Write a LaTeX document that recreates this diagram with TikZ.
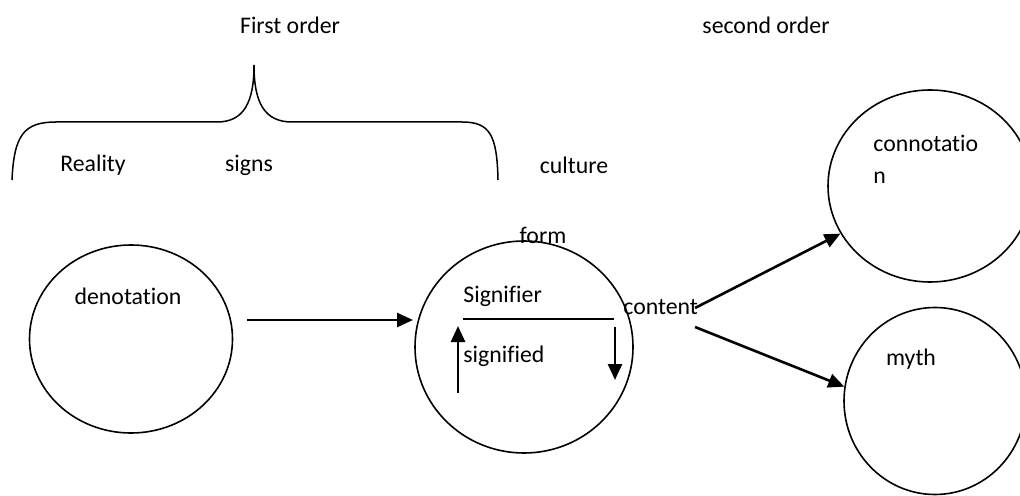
\documentclass[tikz,border=0pt]{standalone}
\usepackage{fontspec}
\setmainfont[Ligatures=NoCommon]{Carlito}
\usetikzlibrary{arrows.meta,shapes.geometric}
\tikzset{
every node/.style={inner sep=0pt, font=\fontsize{11.9}{14}\selectfont}, % all texts
ring/.style={draw, ellipse, line width=0.8pt}, % the round shapes
arr/.style={-{Triangle[length=8pt,width=7pt]}, line width=1.3pt}
}
\begin{document}
\begin{tikzpicture}[x=0.5pt,y=-0.5pt]
    \useasboundingbox (0,0) rectangle (1020,496);
    \clip (0,0) rectangle (1020,496);
    \node (first) at (290,25) {First order};
    \node (second) at (766,25) {second order};
    \draw [line width=0.75pt] (12,180) .. controls (14,135) and (24,122) .. (56,122) -- (217,122)
        .. controls (244,122) and (254,102) .. (254,65)
        .. controls (254,102) and (264,122) .. (292,122) -- (462,122)
        .. controls (490,122) and (497,135) .. (498,180);
    \node (reality) at (93,165) {Reality};
    \node (signs) at (249,165) {signs};
    \node (culture) at (574,165) {culture};
    \node [ring, minimum width=101.5pt, minimum height=94pt] (deno) at (131,339) {};
    \node [ring, minimum width=109pt, minimum height=106pt] (sign) at (524,347) {};
    \node [ring, minimum width=102pt, minimum height=96pt] (conn) at (930,186) {};
    \node [ring, minimum width=91pt, minimum height=93.5pt] (myth) at (935,401) {};
    \node (denotext) at (128,296) {denotation};
    \node (form) at (543,235) {form};
    \node [anchor=west] (signifier) at (463,296) {Signifier};
    \node [anchor=west] (signified) at (463,356) {signified};
    \node [anchor=west] (content) at (623,307) {content};
    \node [anchor=west] (conntext) at (873,143) {connotatio};
    \node [anchor=west] (conntext2) at (873,178) {n};
    \node (mythtext) at (911,359) {myth};
    % arrow ends
    \coordinate (from deno) at (247,320);
    \coordinate (to sign) at (413,320);
    \coordinate (bar left) at (463,319);
    \coordinate (bar right) at (614,319);
    \coordinate (up start) at (458,393);
    \coordinate (up end) at (458,326);
    \coordinate (down start) at (615,327);
    \coordinate (down end) at (615,380);
    \coordinate (out top) at (695,308);
    \coordinate (out low) at (695,327);
    \draw [arr] (from deno) -- (to sign);
    \draw [line width=0.7pt] (bar left) -- (bar right);
    \draw [arr] (up start) -- (up end);
    \draw [arr] (down start) -- (down end);
    \draw [arr] (out top) -- (conn.208);
    \draw [arr] (out low) -- (myth.171);
\end{tikzpicture}
\end{document}
